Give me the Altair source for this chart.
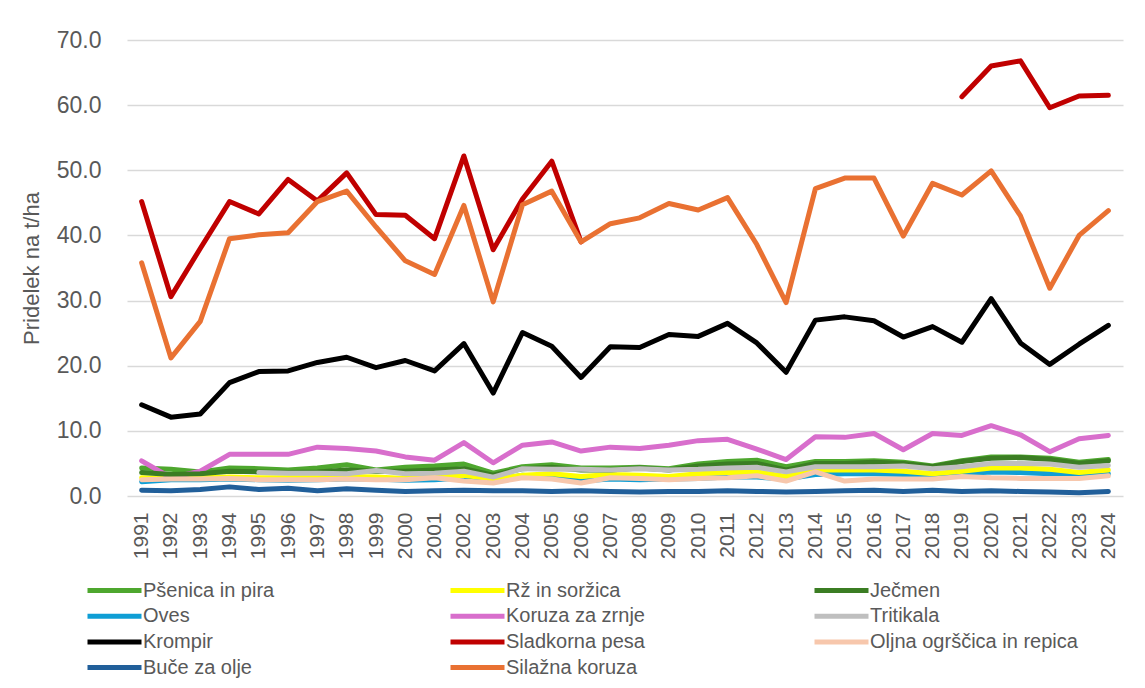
import altair as alt
import pandas as pd

years = list(range(1991, 2025))

psenica = [4.3, 4.1, 3.7, 4.3, 4.2, 4.0, 4.3, 4.8, 4.0, 4.4, 4.6, 4.9, 3.5, 4.5, 4.8, 4.3, 4.3,
           4.4, 4.2, 4.9, 5.3, 5.5, 4.5, 5.3, 5.3, 5.4, 5.2, 4.6, 5.4, 6.0, 6.0, 5.8, 5.2, 5.6]
rz = [2.8, 2.7, 2.8, 2.9, 2.8, 2.8, 2.8, 3.0, 2.9, 2.7, 3.0, 3.2, 2.6, 3.2, 3.4, 3.0, 3.3,
      3.2, 3.0, 3.4, 3.6, 3.7, 3.0, 4.0, 4.0, 4.0, 3.8, 3.4, 3.8, 4.3, 4.3, 4.1, 3.6, 4.0]
jecmen = [3.6, 3.3, 3.4, 3.8, 3.7, 3.6, 3.7, 4.0, 3.8, 3.8, 4.0, 4.2, 3.2, 4.2, 4.4, 4.0, 4.0,
          4.3, 4.0, 4.6, 4.9, 5.0, 4.0, 5.0, 5.0, 5.2, 5.0, 4.5, 5.3, 5.8, 5.9, 5.6, 5.0, 5.4]
oves = [2.2, 2.5, 2.5, 2.6, 2.5, 2.4, 2.5, 2.6, 2.6, 2.4, 2.5, 2.8, 2.3, 3.2, 2.8, 2.3, 2.6,
        2.5, 2.6, 2.7, 2.9, 2.9, 2.6, 3.3, 3.4, 3.4, 3.3, 2.9, 3.4, 3.7, 3.6, 3.4, 3.2, 3.4]
koruza = [5.4, 2.8, 3.8, 6.4, 6.4, 6.4, 7.5, 7.3, 6.9, 6.0, 5.5, 8.2, 5.1, 7.8, 8.3, 6.9, 7.5,
          7.3, 7.8, 8.5, 8.7, 7.2, 5.6, 9.1, 9.0, 9.6, 7.1, 9.6, 9.3, 10.8, 9.4, 6.8, 8.8, 9.3]
tritikala = [None, None, None, None, 3.6, 3.5, 3.5, 3.4, 3.9, 3.4, 3.5, 3.8, 2.9, 4.2, 4.1, 4.1, 4.0,
             4.2, 4.0, 4.1, 4.3, 4.4, 3.7, 4.5, 4.5, 4.5, 4.6, 4.2, 4.5, 5.0, 5.0, 4.9, 4.4, 4.7]
krompir = [14.0, 12.1, 12.6, 17.4, 19.1, 19.2, 20.5, 21.3, 19.7, 20.8, 19.2, 23.4, 15.8, 25.1, 23.0, 18.2, 22.9,
           22.8, 24.8, 24.5, 26.5, 23.5, 19.0, 27.0, 27.5, 26.9, 24.4, 26.0, 23.6, 30.3, 23.5, 20.2, 23.3, 26.2]
sladkorna = [45.2, 30.6, 38.0, 45.2, 43.3, 48.6, 45.3, 49.6, 43.2, 43.1, 39.5, 52.2, 37.8, 45.6, 51.4, 39.0, None,
             None, None, None, None, None, None, None, None, None, None, None, 61.3, 66.0, 66.8, 59.6, 61.4, 61.5]
oljna = [2.5, 2.6, 2.6, 2.7, 2.5, 2.5, 2.5, 2.6, 2.5, 2.5, 2.8, 2.3, 2.0, 2.8, 2.6, 2.0, 2.8,
         2.7, 2.5, 2.7, 2.8, 3.1, 2.3, 3.7, 2.3, 2.6, 2.6, 2.6, 3.0, 2.8, 2.7, 2.7, 2.7, 3.1]
buce = [0.9, 0.8, 1.0, 1.4, 1.0, 1.2, 0.8, 1.1, 0.9, 0.7, 0.8, 0.9, 0.8, 0.8, 0.7, 0.8, 0.7,
        0.6, 0.7, 0.7, 0.8, 0.7, 0.6, 0.7, 0.8, 0.9, 0.7, 0.9, 0.7, 0.8, 0.7, 0.6, 0.5, 0.7]
silazna = [35.8, 21.2, 26.8, 39.5, 40.1, 40.4, 45.2, 46.8, 41.3, 36.1, 34.0, 44.6, 29.8, 44.7, 46.8, 39.0, 41.8,
           42.7, 44.9, 43.9, 45.8, 38.6, 29.7, 47.2, 48.8, 48.8, 39.9, 48.0, 46.2, 49.9, 43.0, 31.9, 40.0, 43.8]

# legend columns (as in the reference legend)
col1_names = ["Pšenica in pira", "Oves", "Krompir", "Buče za olje"]
col1_values = [psenica, oves, krompir, buce]
col1_colors = ["#4EA72E", "#0F9ED5", "#000000", "#215F9A"]

col2_names = ["Rž in soržica", "Koruza za zrnje", "Sladkorna pesa", "Silažna koruza"]
col2_values = [rz, koruza, sladkorna, silazna]
col2_colors = ["#FFFF00", "#D86ECC", "#C00000", "#E97132"]

col3_names = ["Ječmen", "Tritikala", "Oljna ogrščica in repica"]
col3_values = [jecmen, tritikala, oljna]
col3_colors = ["#3B7D23", "#BFBFBF", "#F7C7AC"]

FONT = "Liberation Sans"
GREY = "#595959"


def to_long(names, values_list):
    rows = []
    for name, vals in zip(names, values_list):
        seg = 0
        gap = True
        for y, v in zip(years, vals):
            if v is None:
                gap = True
                continue
            if gap:
                seg += 1
                gap = False
            rows.append({"leto": str(y), "serija": name, "vrednost": v,
                         "seg": f"{name}-{seg}"})
    return pd.DataFrame(rows)


x_enc = alt.X("leto:O", title=None,
              scale=alt.Scale(type="point", padding=0.5),
              axis=alt.Axis(labelAngle=-90, labelFontSize=21, labelColor=GREY,
                            labelFont=FONT, labelPadding=16, ticks=False,
                            domain=False, grid=False))
y_enc = alt.Y("vrednost:Q", title="Pridelek na t/ha",
              scale=alt.Scale(domain=[0, 70], nice=False),
              axis=alt.Axis(values=[0, 10, 20, 30, 40, 50, 60, 70], format=".1f",
                            labelFontSize=23, labelColor=GREY, labelFont=FONT,
                            labelPadding=26, ticks=False, domain=False,
                            gridColor="#D9D9D9", gridWidth=1.3,
                            titleFontSize=22, titleColor=GREY, titleFont=FONT,
                            titleFontWeight="normal", titlePadding=13))


def layer(names, values_list, colors, lx):
    df = to_long(names, values_list)
    return alt.Chart(df).mark_line(strokeWidth=5, strokeCap="round",
                                   strokeJoin="round").encode(
        x=x_enc,
        y=y_enc,
        detail="seg:N",
        color=alt.Color("serija:N",
                        scale=alt.Scale(domain=names, range=colors),
                        sort=names,
                        legend=alt.Legend(orient="none", legendX=lx, legendY=539,
                                          title=None, direction="vertical",
                                          symbolType="M-3,0H3", symbolSize=324,
                                          symbolStrokeWidth=5,
                                          symbolFillColor="transparent",
                                          labelFontSize=20,
                                          labelFont=FONT, labelColor=GREY,
                                          labelOffset=17, rowPadding=3.7, padding=0,
                                          labelLimit=400)),
    )


chart = alt.layer(
    layer(col1_names, col1_values, col1_colors, -24),
    layer(col2_names, col2_values, col2_colors, 339),
    layer(col3_names, col3_values, col3_colors, 703),
).resolve_scale(color="independent").properties(
    width=996, height=456,
    autosize=alt.AutoSizeParams(type="none"),
    padding={"left": 119, "top": 32, "right": 14, "bottom": 184},
).configure_view(stroke=None)

chart.save("out.html", embed_options={"renderer": "svg", "actions": False})
